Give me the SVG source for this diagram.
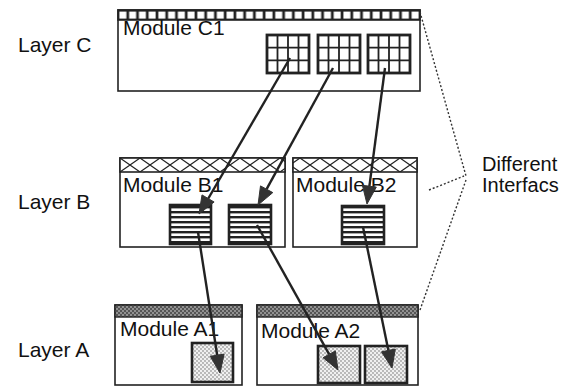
<svg xmlns="http://www.w3.org/2000/svg" width="574" height="386" viewBox="0 0 574 386">
<style>
  text { font-family: "Liberation Sans", Arial, sans-serif; fill: #111; }
  .layer { font-size: 21px; }
  .mod { font-size: 21px; }
  .note { font-size: 20px; }
  .box { fill: #fff; stroke: #222; stroke-width: 1.6; }
  .conn { stroke: #222; stroke-width: 2.4; fill: none; }
  .head { fill: #333; stroke: #333; stroke-width: 1; stroke-linejoin: round; }
  .dot { stroke: #333; stroke-width: 1.4; fill: none; stroke-dasharray: 2 2; }
</style>
<defs>
  <pattern id="sq" width="9.74" height="10" patternUnits="userSpaceOnUse" x="118" y="10">
    <rect width="9.74" height="10" fill="#222"/>
    <rect x="1.4" y="1.6" width="7" height="7" fill="#fff"/>
  </pattern>
  <pattern id="xx" width="20" height="14" patternUnits="userSpaceOnUse" x="120" y="158">
    <rect width="20" height="14" fill="#fff"/>
    <path d="M0 0 L20 14 M20 0 L0 14" stroke="#222" stroke-width="1.2"/>
  </pattern>
  <pattern id="darkdot" width="4" height="4" patternUnits="userSpaceOnUse">
    <rect width="4" height="4" fill="#555"/>
    <circle cx="1" cy="1" r="0.8" fill="#ddd"/>
    <circle cx="3" cy="3" r="0.8" fill="#ddd"/>
  </pattern>
  <pattern id="lightdot" width="4" height="4" patternUnits="userSpaceOnUse">
    <rect width="4" height="4" fill="#f0f0f0"/>
    <circle cx="1" cy="1" r="0.65" fill="#555"/>
    <circle cx="3" cy="3" r="0.65" fill="#555"/>
  </pattern>
  <pattern id="stripes" width="10" height="5" patternUnits="userSpaceOnUse" y="1">
    <rect width="10" height="5" fill="#fff"/>
    <rect width="10" height="2.4" fill="#222"/>
  </pattern>
  <g id="grid">
    <rect x="0" y="0" width="42" height="38" fill="#fff" stroke="#222" stroke-width="2.8"/>
    <path d="M10.5 0 V38 M21 0 V38 M31.5 0 V38 M0 12.7 H42 M0 25.3 H42" stroke="#222" stroke-width="1.8"/>
  </g>
</defs>

<g id="labels">
  <text class="layer" x="18" y="52">Layer C</text>
  <text class="layer" x="18" y="209">Layer B</text>
  <text class="layer" x="18" y="357">Layer A</text>
</g>

<g id="module-c1">
  <rect class="box" x="118" y="10" width="302" height="81"/>
  <rect x="118" y="10" width="302" height="10" fill="url(#sq)" stroke="#222" stroke-width="1.6"/>
  <text class="mod" x="123" y="35">Module C1</text>
  <use href="#grid" x="267" y="35"/>
  <use href="#grid" x="318" y="35"/>
  <use href="#grid" x="368" y="35"/>
</g>

<g id="module-b1">
  <rect class="box" x="120" y="158" width="165" height="89"/>
  <rect x="120" y="158" width="165" height="14" fill="url(#xx)" stroke="#222" stroke-width="1.6"/>
  <text class="mod" x="123" y="192">Module B1</text>
  <rect x="170" y="205" width="41" height="39" fill="url(#stripes)" stroke="#222" stroke-width="2.6"/>
  <rect x="229" y="205" width="42" height="39" fill="url(#stripes)" stroke="#222" stroke-width="2.6"/>
</g>

<g id="module-b2">
  <rect class="box" x="293" y="158" width="124" height="89"/>
  <rect x="293" y="158" width="124" height="14" fill="url(#xx)" stroke="#222" stroke-width="1.6"/>
  <text class="mod" x="296" y="192">Module B2</text>
  <rect x="342" y="206" width="42" height="38" fill="url(#stripes)" stroke="#222" stroke-width="2.6"/>
</g>

<g id="module-a1">
  <rect class="box" x="115" y="305" width="127" height="80"/>
  <rect x="115" y="305" width="127" height="12" fill="url(#darkdot)" stroke="#222" stroke-width="1.4"/>
  <text class="mod" x="120" y="336">Module A1</text>
  <rect x="192" y="343" width="41" height="39" fill="url(#lightdot)" stroke="#222" stroke-width="2.6"/>
</g>

<g id="module-a2">
  <rect class="box" x="257" y="305" width="161" height="80"/>
  <rect x="257" y="305" width="161" height="12" fill="url(#darkdot)" stroke="#222" stroke-width="1.4"/>
  <text class="mod" x="261" y="338">Module A2</text>
  <rect x="318" y="346" width="42" height="37" fill="url(#lightdot)" stroke="#222" stroke-width="2.6"/>
  <rect x="365" y="346" width="42" height="37" fill="url(#lightdot)" stroke="#222" stroke-width="2.6"/>
</g>

<g id="connectors">
  <line class="conn" x1="290" y1="58" x2="208" y2="199"/>
  <polygon class="head" points="199,214 202,194.9 214.1,202"/>
  <line class="conn" x1="333" y1="68" x2="266.6" y2="189.2"/>
  <polygon class="head" points="258,205 260.5,185.9 272.8,192.6"/>
  <line class="conn" x1="385" y1="68" x2="369.4" y2="186.2"/>
  <polygon class="head" points="367,204 362.4,185.3 376.3,187.1"/>
  <line class="conn" x1="198" y1="232" x2="217.2" y2="355.2"/>
  <polygon class="head" points="220,373 210.3,356.3 224.1,354.1"/>
  <line class="conn" x1="257" y1="225" x2="329.2" y2="354.3"/>
  <polygon class="head" points="338,370 323.1,357.7 335.3,350.9"/>
  <line class="conn" x1="363" y1="227" x2="388.4" y2="350.4"/>
  <polygon class="head" points="392,368 381.5,351.8 395.3,349"/>
</g>

<g id="interfaces-note">
  <path class="dot" d="M420 12 L466 176"/>
  <path class="dot" d="M429 190 L464 176"/>
  <path class="dot" d="M420 310 L466 180"/>
  <text class="note" x="482" y="171">Different</text>
  <text class="note" x="482" y="192">Interfacs</text>
</g>
</svg>
